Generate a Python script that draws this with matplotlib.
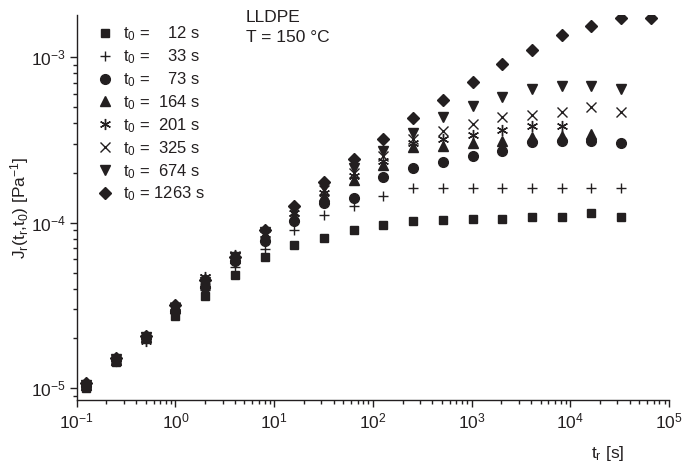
import matplotlib
matplotlib.use("Agg")
import matplotlib.pyplot as plt
from matplotlib import ticker

plt.rcParams["font.family"] = ["Liberation Sans", "DejaVu Sans"]
plt.rcParams["mathtext.fontset"] = "custom"
plt.rcParams["mathtext.rm"] = "Liberation Sans"
plt.rcParams["mathtext.it"] = "Liberation Sans"
plt.rcParams["mathtext.default"] = "regular"

# recovery time t_r [s]
t_r = [0.125, 0.25, 0.5, 1, 2, 4, 8, 16, 32, 64, 128, 256, 512,
       1024, 2048, 4096, 8192, 16384, 32768, 65536]

# J_r(t_r, t_0) [1/Pa] per creep time t_0
j_12 = [1.0e-5, 1.45e-5, 1.98e-5, 2.72e-5, 3.63e-5, 4.86e-5, 6.2e-5, 7.3e-5,
        8.1e-5, 9.1e-5, 9.7e-5, 1.02e-4, 1.04e-4, 1.05e-4, 1.05e-4, 1.08e-4,
        1.08e-4, 1.14e-4, 1.08e-4]
j_33 = [1.02e-5, 1.47e-5, 2.0e-5, 2.85e-5, 3.9e-5, 5.4e-5, 6.9e-5, 9.0e-5,
        1.11e-4, 1.26e-4, 1.46e-4, 1.62e-4, 1.62e-4, 1.62e-4, 1.62e-4,
        1.62e-4, 1.62e-4, 1.62e-4, 1.62e-4]
j_73 = [1.03e-5, 1.48e-5, 2.02e-5, 2.95e-5, 4.1e-5, 5.9e-5, 7.8e-5, 1.03e-4,
        1.32e-4, 1.41e-4, 1.88e-4, 2.14e-4, 2.34e-4, 2.52e-4, 2.7e-4,
        3.06e-4, 3.13e-4, 3.13e-4, 3.03e-4]
j_164 = [1.04e-5, 1.49e-5, 2.04e-5, 3.05e-5, 4.3e-5, 6.1e-5, 8.3e-5, 1.1e-4,
         1.45e-4, 1.82e-4, 2.24e-4, 2.86e-4, 2.92e-4, 3.03e-4, 3.13e-4,
         3.32e-4, 3.36e-4, 3.43e-4]
j_201 = [1.03e-5, 1.46e-5, 1.93e-5, 3.1e-5, 4.7e-5, 6.35e-5, 8.5e-5, 1.14e-4,
         1.52e-4, 1.93e-4, 2.37e-4, 3.04e-4, 3.21e-4, 3.39e-4, 3.63e-4,
         3.82e-4, 3.82e-4]
j_325 = [1.04e-5, 1.48e-5, 2.03e-5, 3.1e-5, 4.6e-5, 6.3e-5, 8.7e-5, 1.17e-4,
         1.58e-4, 2.0e-4, 2.52e-4, 3.21e-4, 3.6e-4, 3.94e-4, 4.34e-4,
         4.48e-4, 4.65e-4, 4.98e-4, 4.65e-4]
j_674 = [1.05e-5, 1.5e-5, 2.05e-5, 3.05e-5, 4.4e-5, 6.2e-5, 8.8e-5, 1.2e-4,
         1.65e-4, 2.13e-4, 2.73e-4, 3.47e-4, 4.34e-4, 5.05e-4, 5.77e-4,
         6.47e-4, 6.66e-4, 6.66e-4, 6.47e-4]
j_1263 = [1.07e-5, 1.52e-5, 2.07e-5, 3.18e-5, 4.5e-5, 6.2e-5, 9.0e-5, 1.27e-4,
          1.76e-4, 2.43e-4, 3.2e-4, 4.28e-4, 5.51e-4, 7.1e-4, 9.08e-4,
          1.1e-3, 1.36e-3, 1.55e-3, 1.73e-3, 1.73e-3]

labels = ["t$_0$ =    12 s", "t$_0$ =    33 s", "t$_0$ =    73 s",
          "t$_0$ =  164 s", "t$_0$ =  201 s", "t$_0$ =  325 s",
          "t$_0$ =  674 s", "t$_0$ = 1263 s"]

x_ticks = [1e-1, 1e0, 1e1, 1e2, 1e3, 1e4, 1e5]
y_ticks = [1e-5, 1e-4, 1e-3]

ink = "#231f20"
series = [
    (j_12, "s", 6, 1.0),
    (j_33, "+", 7, 1.0),
    (j_73, "o", 7, 1.0),
    (j_164, "^", 7, 1.0),
    (j_201, (6, 2, 0), 8, 1.0),
    (j_325, "x", 6.5, 1.0),
    (j_674, "v", 7, 1.0),
    (j_1263, "D", 5.8, 1.0),
]

fig = plt.figure(figsize=(6.85, 4.68), dpi=100)
ax = fig.add_axes([0.112, 0.1453, 0.8647, 0.8227])

for (vals, mk, ms, mew), lab in zip(series, labels):
    ax.plot(t_r[:len(vals)], vals, linestyle="none", marker=mk, markersize=ms,
            markeredgewidth=mew, color=ink, markerfacecolor=ink,
            markeredgecolor=ink, label=lab)

ax.set_xscale("log")
ax.set_yscale("log")
ax.set_xlim(0.1, 1e5)
ax.set_ylim(8.5e-6, 1.8e-3)
ax.set_xticks(x_ticks)
ax.set_yticks(y_ticks)
ax.xaxis.set_minor_locator(ticker.LogLocator(base=10, subs=range(2, 10), numticks=20))
ax.yaxis.set_minor_locator(ticker.LogLocator(base=10, subs=range(2, 10), numticks=20))
ax.xaxis.set_minor_formatter(ticker.NullFormatter())
ax.yaxis.set_minor_formatter(ticker.NullFormatter())

for side in ["top", "right"]:
    ax.spines[side].set_visible(False)
for side in ["left", "bottom"]:
    ax.spines[side].set_color(ink)
    ax.spines[side].set_linewidth(1.0)

ax.tick_params(which="major", direction="out", length=5, width=1,
               color=ink, labelsize=12.5, labelcolor=ink, pad=3)
ax.tick_params(which="minor", direction="out", length=3, width=1, color=ink)

ax.set_ylabel("J$_r$(t$_r$,t$_0$) [Pa$^{-1}$]", fontsize=12.5, color=ink)
ax.yaxis.set_label_coords(-0.078, 0.5)
ax.set_xlabel("t$_r$ [s]", fontsize=12.5, color=ink)
ax.xaxis.set_label_coords(0.897, -0.115)

ax.text(0.285, 1.014, "LLDPE", transform=ax.transAxes, fontsize=12.5,
        color=ink, va="top", ha="left")
ax.text(0.285, 0.962, "T = 150 °C", transform=ax.transAxes, fontsize=12.5,
        color=ink, va="top", ha="left")

leg = ax.legend(loc="upper left", bbox_to_anchor=(0.033, 0.975), frameon=False,
                fontsize=12, labelspacing=0.25, handlelength=1.0,
                handletextpad=0.6, borderaxespad=0, borderpad=0)
for txt in leg.get_texts():
    txt.set_color(ink)

fig.savefig("out.png", dpi=100)
